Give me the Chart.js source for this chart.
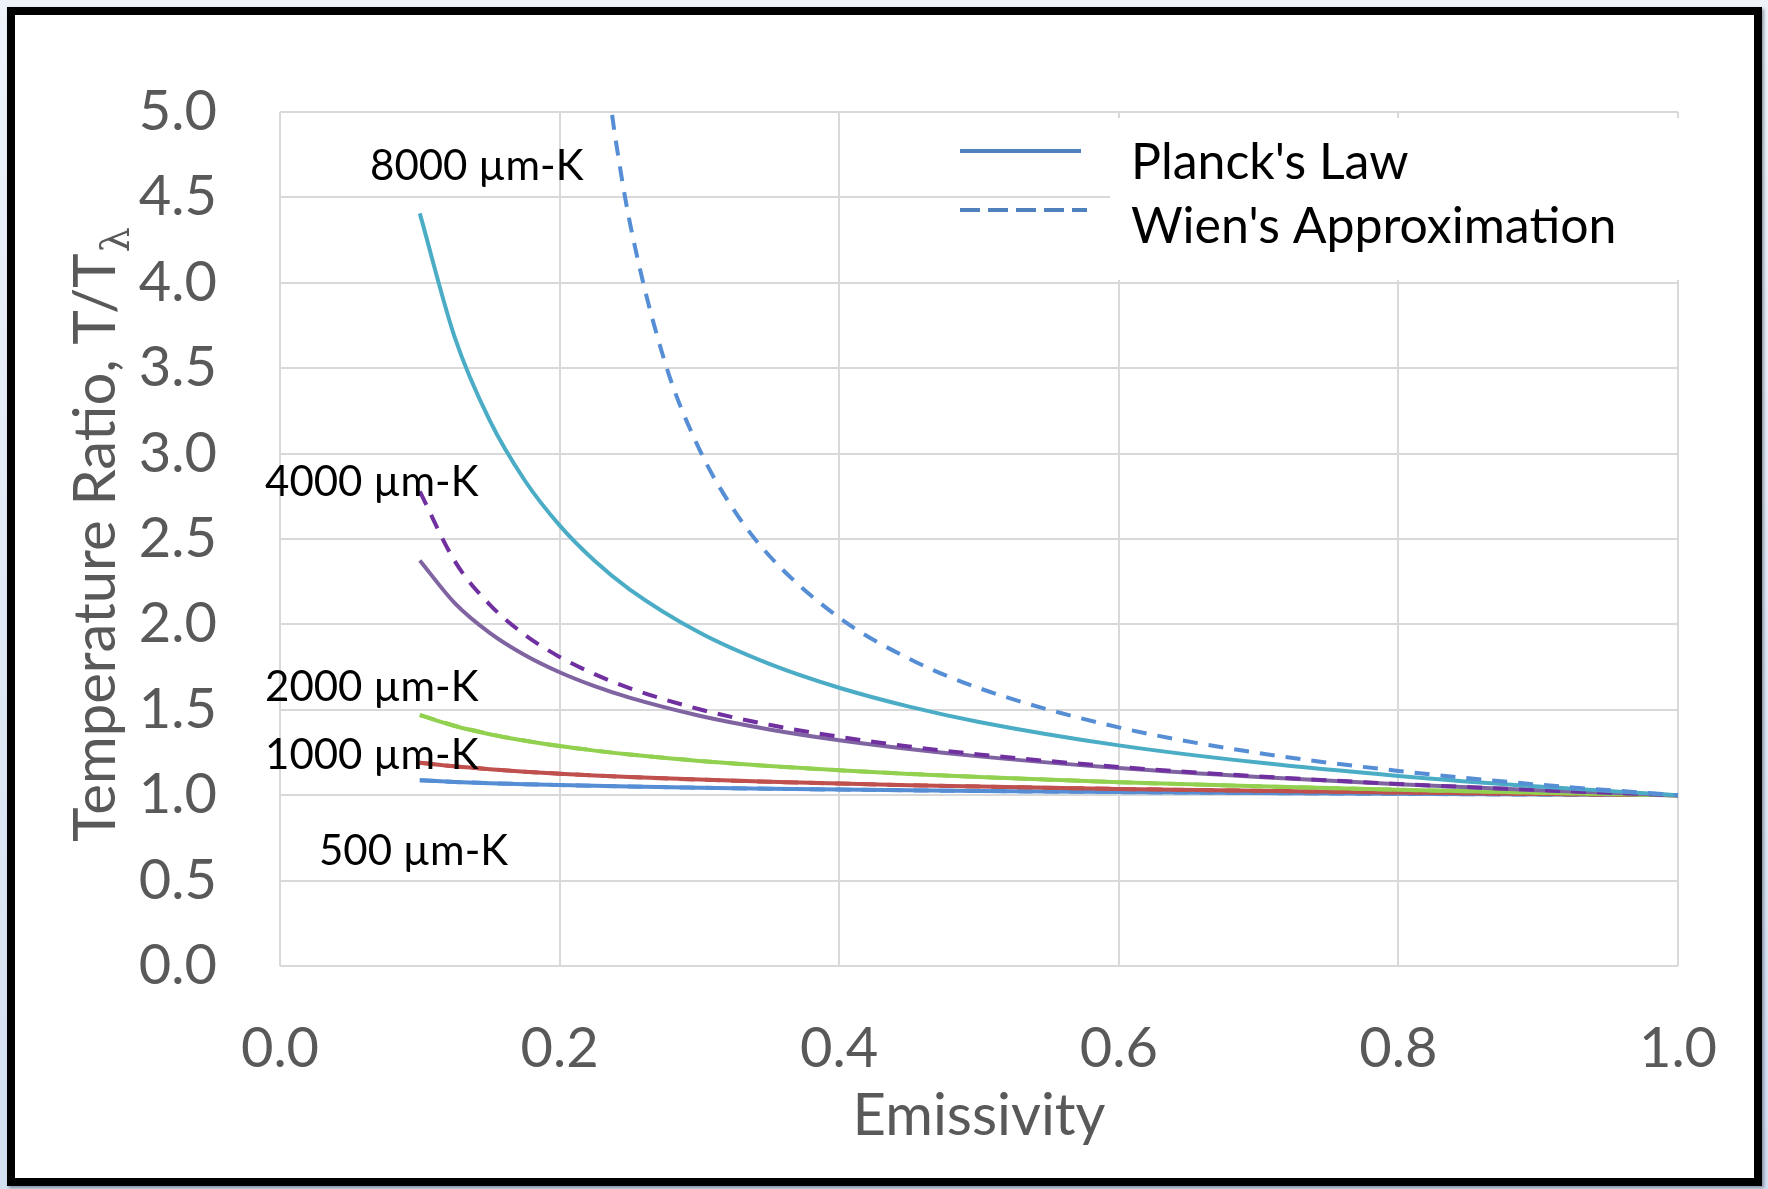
<!DOCTYPE html>
<html lang="en">
<head>
<meta charset="UTF-8">
<title>Temperature Ratio vs Emissivity</title>
<script src="https://cdn.jsdelivr.net/npm/chart.js"></script>
<style>
  html, body { margin: 0; padding: 0; }
  body { width: 1768px; height: 1189px; overflow: hidden; position: relative;
         background: linear-gradient(180deg, #eef3fa 0%, #d3e0f1 100%); }
  .frame { position: absolute; left: 7px; top: 7px; width: 1739px; height: 1163px;
           border: 8px solid #000; background: #fff; box-shadow: 2px 2px 3px rgba(60,70,90,0.5); }
  #chart { position: absolute; left: 0; top: 0; }
</style>
</head>
<body>
<div class="frame"></div>
<canvas id="chart" width="1768" height="1189"></canvas>
<script>
// emissivity values where the curves were read
const emissivity = [0.1, 0.125, 0.15, 0.175, 0.2, 0.225, 0.25, 0.3, 0.35, 0.4, 0.45, 0.5, 0.6, 0.7, 0.8, 0.9, 1.0];

// T/T_lambda, Planck's law (solid)
const planck8000 = [4.4063, 3.6807, 3.1940, 2.8440, 2.5796, 2.3725, 2.2056, 1.9525, 1.7689, 1.6291, 1.5187, 1.4290, 1.2917, 1.1908, 1.1130, 1.0509, 1.0];
const planck4000 = [2.3745, 2.1246, 1.9504, 1.8208, 1.7198, 1.6383, 1.5709, 1.4652, 1.3852, 1.3219, 1.2704, 1.2273, 1.1587, 1.1061, 1.0640, 1.0293, 1.0];
const planck2000 = [1.4687, 1.4051, 1.3571, 1.3189, 1.2875, 1.2610, 1.2382, 1.2006, 1.1706, 1.1458, 1.1247, 1.1065, 1.0764, 1.0521, 1.0320, 1.0149, 1.0];
const planck1000 = [1.1905, 1.1689, 1.1519, 1.1378, 1.1260, 1.1157, 1.1066, 1.0913, 1.0787, 1.0680, 1.0588, 1.0506, 1.0368, 1.0254, 1.0158, 1.0074, 1.0];
const planck500  = [1.0870, 1.0779, 1.0706, 1.0645, 1.0592, 1.0547, 1.0506, 1.0437, 1.0379, 1.0329, 1.0285, 1.0247, 1.0181, 1.0126, 1.0078, 1.0037, 1.0];

// T/T_lambda, Wien's approximation (dashed)
const wien4000 = [2.7789, 2.3703, 2.1160, 1.9401, 1.8098, 1.7085, 1.6271, 1.5031, 1.4122, 1.3418, 1.2853, 1.2387, 1.1655, 1.1101, 1.0661, 1.0302, 1.0];
const wien2000 = [1.4707, 1.4066, 1.3582, 1.3198, 1.2882, 1.2616, 1.2387, 1.2010, 1.1709, 1.1460, 1.1249, 1.1066, 1.0764, 1.0522, 1.0320, 1.0149, 1.0];
const wien1000 = [1.1905, 1.1689, 1.1519, 1.1378, 1.1260, 1.1157, 1.1066, 1.0913, 1.0787, 1.0680, 1.0588, 1.0506, 1.0368, 1.0254, 1.0158, 1.0074, 1.0];
const wien500  = [1.0870, 1.0779, 1.0706, 1.0645, 1.0592, 1.0547, 1.0506, 1.0437, 1.0379, 1.0329, 1.0285, 1.0247, 1.0181, 1.0126, 1.0078, 1.0037, 1.0];

// the 8000 um-K Wien curve leaves the top of the plot, so it has its own x values
const wienEmissivity8000 = [0.235, 0.24, 0.25, 0.275, 0.3, 0.325, 0.35, 0.4, 0.45, 0.5, 0.6, 0.7, 0.8, 0.9, 1.0];
const wien8000 = [5.134, 4.843, 4.363, 3.544, 3.025, 2.666, 2.402, 2.039, 1.799, 1.627, 1.397, 1.247, 1.142, 1.062, 1.0];

const xTicks = [0, 0.2, 0.4, 0.6, 0.8, 1.0];
const yTicks = [0, 0.5, 1, 1.5, 2, 2.5, 3, 3.5, 4, 4.5, 5];

const curveLabels = ['8000 \u00b5m-K', '4000 \u00b5m-K', '2000 \u00b5m-K', '1000 \u00b5m-K', '500 \u00b5m-K'];
// where each curve label sits, in axis units (left edge, middle)
const curveLabelAt = [[0.0644, 4.68], [-0.0107, 2.83], [-0.0107, 1.63], [-0.0107, 1.23], [0.0279, 0.67]];

const legendNames = ["Planck's Law", "Wien's Approximation"];

const FONT = 'Lato, Carlito, Calibri, sans-serif';
const GRAY = '#595959';

function pts(xs, ys) {
    return ys.map((y, i) => ({ x: xs[i], y: y }));
}

function curve(label, xs, ys, color, dashed) {
    return {
        label: label,
        data: pts(xs, ys),
        borderColor: color,
        borderWidth: 4,
        borderDash: dashed ? [15, 11] : [],
        pointRadius: 0,
        fill: false,
        cubicInterpolationMode: 'monotone'
    };
}

const decorations = {
    id: 'decorations',
    beforeDatasetsDraw(chart) {
        // the legend box sits over the gridlines
        const ctx = chart.ctx;
        ctx.save();
        ctx.fillStyle = '#fff';
        ctx.fillRect(1110, 118, 600, 162);
        ctx.restore();
    },
    afterDatasetsDraw(chart) {
        const ctx = chart.ctx;
        const area = chart.chartArea;
        const xs = chart.scales.x, ys = chart.scales.y;
        ctx.save();

        // curve labels
        ctx.fillStyle = '#000';
        ctx.font = '42px ' + FONT;
        ctx.textAlign = 'left';
        ctx.textBaseline = 'middle';
        curveLabels.forEach((t, i) => {
            ctx.fillText(t, xs.getPixelForValue(curveLabelAt[i][0]), ys.getPixelForValue(curveLabelAt[i][1]));
        });

        // legend
        ctx.strokeStyle = '#4f81bd';
        ctx.lineWidth = 4;
        ctx.beginPath();
        ctx.moveTo(960, 151); ctx.lineTo(1081, 151);
        ctx.stroke();
        ctx.setLineDash([20, 8]);
        ctx.beginPath();
        ctx.moveTo(960, 210); ctx.lineTo(1087, 210);
        ctx.stroke();
        ctx.setLineDash([]);
        ctx.font = '50px ' + FONT;
        ctx.fillText(legendNames[0], 1131, 163);
        ctx.fillText(legendNames[1], 1131, 227);

        // x axis title
        ctx.fillStyle = GRAY;
        ctx.font = '58px ' + FONT;
        ctx.textAlign = 'center';
        ctx.textBaseline = 'alphabetic';
        ctx.fillText('Emissivity', (area.left + area.right) / 2, 1135);

        // y axis title with subscript lambda
        ctx.translate(115, (area.top + area.bottom) / 2 - 4);
        ctx.rotate(-Math.PI / 2);
        ctx.textAlign = 'left';
        const main = 'Temperature Ratio, T/T';
        ctx.font = '58px ' + FONT;
        const wMain = ctx.measureText(main).width;
        ctx.font = '40px "DejaVu Serif"';
        const wSub = ctx.measureText('\u03bb').width;
        const start = -(wMain + wSub) / 2;
        ctx.font = '58px ' + FONT;
        ctx.fillText(main, start, 0);
        ctx.font = '40px "DejaVu Serif"';
        ctx.fillText('\u03bb', start + wMain + 1, 14);
        ctx.restore();
    }
};

new Chart(document.getElementById('chart').getContext('2d'), {
    type: 'line',
    data: {
        datasets: [
            curve("8000 Wien", wienEmissivity8000, wien8000, '#558ed5', true),
            curve("8000 Planck", emissivity, planck8000, '#4bacc6', false),
            curve("4000 Wien", emissivity, wien4000, '#7030a0', true),
            curve("4000 Planck", emissivity, planck4000, '#8064a2', false),
            curve("2000 Wien", emissivity, wien2000, '#92d050', true),
            curve("2000 Planck", emissivity, planck2000, '#92d050', false),
            curve("1000 Wien", emissivity, wien1000, '#c0504d', true),
            curve("1000 Planck", emissivity, planck1000, '#c0504d', false),
            curve("500 Wien", emissivity, wien500, '#558ed5', true),
            curve("500 Planck", emissivity, planck500, '#558ed5', false)
        ]
    },
    options: {
        responsive: false,
        animation: false,
        devicePixelRatio: 1,
        layout: { padding: { left: 0, right: 90, top: 112, bottom: 0 } },
        plugins: { legend: { display: false }, tooltip: { enabled: false } },
        scales: {
            x: {
                type: 'linear', min: 0, max: 1,
                afterBuildTicks: s => { s.ticks = xTicks.map(v => ({ value: v })); },
                afterFit: s => { s.height = 223; },
                ticks: { callback: v => v.toFixed(1), color: GRAY, font: { family: FONT, size: 56 }, padding: 49, maxRotation: 0 },
                grid: { color: '#d9d9d9', lineWidth: 2, drawTicks: false },
                border: { display: false }
            },
            y: {
                min: 0, max: 5,
                afterBuildTicks: s => { s.ticks = yTicks.map(v => ({ value: v })); },
                afterFit: s => { s.width = 280; },
                ticks: { callback: v => v.toFixed(1), color: GRAY, font: { family: FONT, size: 56 }, padding: 63 },
                grid: { color: '#d9d9d9', lineWidth: 2, drawTicks: false },
                border: { display: false }
            }
        }
    },
    plugins: [decorations]
});
</script>
</body>
</html>
